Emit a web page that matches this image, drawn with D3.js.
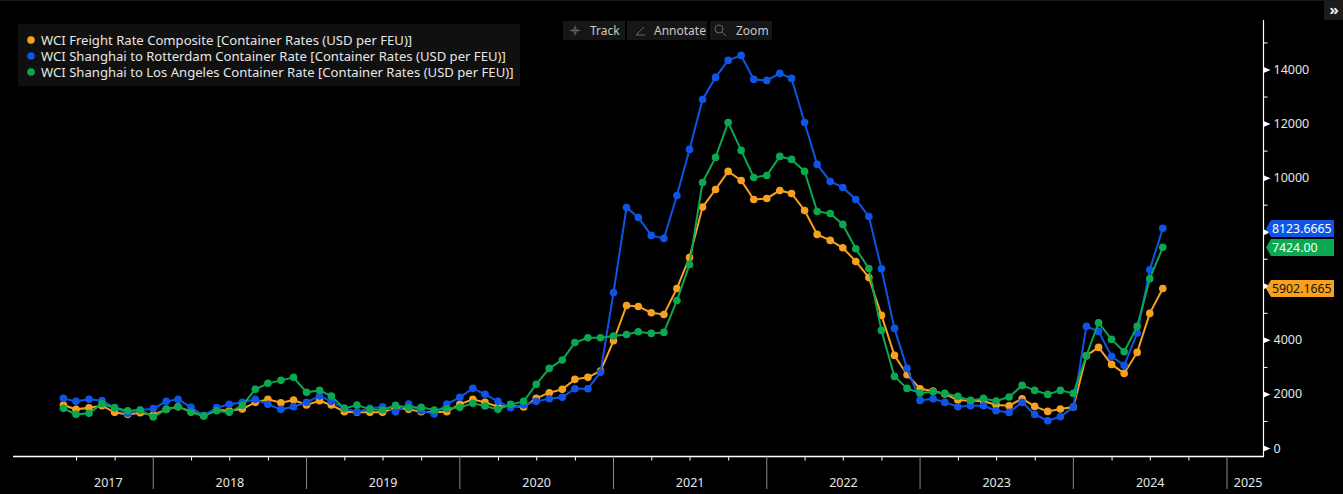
<!DOCTYPE html>
<html>
<head>
<meta charset="utf-8">
<title>WCI Container Rates</title>
<script src="https://cdn.jsdelivr.net/npm/d3@7"></script>
<style>
html, body { margin: 0; padding: 0; background: #000; overflow: hidden; }
text { font-family: "Noto Sans", sans-serif; font-size: 12.5px; fill: #e6e6e6; }
</style>
</head>
<body>
<script>
// monthly readings, Jun 2017 to Aug 2024
var composite = [1590,1429,1491,1565,1318,1244,1306,1220,1429,1528,1343,1195,1405,1380,1441,1688,1799,1676,1774,1590,1750,1590,1343,1318,
  1318,1318,1491,1429,1343,1318,1343,1614,1799,1688,1528,1565,1515,1836,2046,2169,2539,2613,2850,3966,
  5273,5236,5002,4940,5902,7049,8911,9564,10230,9897,9194,9231,9527,9416,8787,7900,7678,7406,6901,6309,4905,3425,2710,
  2192,2106,1995,1773,1748,1736,1588,1563,1822,1539,1354,1440,1514,3413,3721,3092,2759,3536,4979,5902.1665];
var rotterdam = [1836,1725,1800,1751,1492,1282,1405,1455,1725,1800,1504,1196,1492,1615,1689,1800,1615,1430,1529,1689,1923,1725,1467,1331,
  1466,1528,1343,1626,1380,1257,1626,1873,2206,1984,1725,1491,1590,1725,1824,1873,2194,2194,2798,5754,
  8898,8528,7863,7752,9342,11044,12893,13707,14336,14521,13633,13596,13855,13670,12042,10489,9860,9638,9194,8565,6631,4424,2944,
  1761,1822,1687,1526,1563,1563,1378,1317,1687,1243,1008,1156,1514,4498,4313,3388,3055,4251,6594,8123.6665];
var losAngeles = [1466,1244,1281,1639,1491,1380,1405,1146,1429,1528,1318,1183,1380,1318,1577,2169,2391,2502,2613,2058,2132,1922,1466,1590,
  1429,1405,1577,1491,1503,1405,1454,1503,1651,1552,1429,1614,1725,2354,2946,3254,3900,4080,4078,4139,
  4200,4299,4238,4275,5458,6790,9823,10748,12042,11007,10008,10082,10785,10674,10230,8750,8676,8270,7369,6642,4350,2648,2204,
  2032,2081,2019,1908,1761,1834,1736,1884,2315,2131,1982,2131,2019,3413,4633,4017,3561,4498,6261,7424];

var seriesNames = ['WCI Freight Rate Composite [Container Rates (USD per FEU)]',
  'WCI Shanghai to Rotterdam Container Rate [Container Rates (USD per FEU)]',
  'WCI Shanghai to Los Angeles Container Rate [Container Rates (USD per FEU)]'];
var seriesColors = ['#f8a11e', '#0e55e6', '#0aa850'];
var seriesValues = [composite, rotterdam, losAngeles];
var lastLabels = ['5902.1665', '8123.6665', '7424.00'];
var lastLabelColors = ['#1c1204', '#ffffff', '#ffffff'];
var tagCenters = [288.5, 228.5, 247.5];

var majorTicks = [0,2000,4000,6000,8000,10000,12000,14000];
var minorTicks = [1000,3000,5000,7000,9000,11000,13000,15000];
var hiddenTickLabels = [6000, 8000]; // the value tags sit on these
var years = [2017,2018,2019,2020,2021,2022,2023,2024,2025];
var toolbarLabels = ['Track', 'Annotate', 'Zoom'];

var months = d3.timeMonth.range(new Date(2017, 5, 1), new Date(2024, 8, 1));

var svg = d3.select('body').append('svg')
            .attr('width', 1343)
            .attr('height', 494)
            .style('display', 'block')
            .style('background', '#000');

var x = d3.scaleTime()
          .domain([new Date(2017, 1, 1), new Date(2025, 2, 30)])
          .range([13, 1264]);
var y = d3.scaleLinear().domain([0, 14000]).range([448, 69.5]);

// top strip and the >> button
svg.append('rect').attr('width', 1343).attr('height', 1).style('fill', '#1a1a1a');
svg.append('rect').attr('x', 1324).attr('y', 1).attr('width', 19).attr('height', 19).style('fill', '#1c1c1c');
svg.append('text').attr('x', 1334).attr('y', 15).attr('text-anchor', 'middle')
   .style('font-weight', 700).style('font-size', '15px').style('fill', '#f0f0f0').text('\u00bb');

// y axis, right side
var yMinor = d3.axisRight(y).tickValues(minorTicks).tickSize(4).tickFormat('');
var yMajor = d3.axisRight(y).tickValues(majorTicks).tickSize(0).tickPadding(10)
               .tickFormat(function(d) { return hiddenTickLabels.indexOf(d) >= 0 ? '' : d; });
svg.append('g').attr('transform', 'translate(1263.5,0)').call(yMinor)
   .call(function(g) { g.select('.domain').remove(); })
   .selectAll('line').style('stroke', '#fff');
var yg = svg.append('g').attr('transform', 'translate(1263.5,0)').call(yMajor);
yg.select('.domain').remove();
yg.selectAll('.tick').append('path').attr('d', 'M0,-3L7,0L0,3Z').style('fill', '#fff');
yg.selectAll('text').style('font-family', '"Noto Sans", sans-serif').style('font-size', '12.5px').style('fill', '#e6e6e6');
svg.append('line').attr('x1', 1263.5).attr('x2', 1263.5).attr('y1', 20).attr('y2', 456.5)
   .style('stroke', '#fff').style('stroke-width', 1.2);

// x axis, quarter ticks and year separators
var quarters = d3.timeMonth.range(new Date(2017, 6, 1), new Date(2025, 0, 1), 3).filter(function(d) { return d.getMonth() != 0; });
var xg = svg.append('g').attr('transform', 'translate(0,456.5)')
            .call(d3.axisBottom(x).tickValues(quarters).tickSize(4).tickFormat(''));
xg.select('.domain').remove();
xg.selectAll('line').style('stroke', '#fff');
svg.append('line').attr('x1', 13).attr('x2', 1264).attr('y1', 456.5).attr('y2', 456.5)
   .style('stroke', '#fff').style('stroke-width', 1.4);

var yearStarts = years.slice(1).map(function(d) { return new Date(d, 0, 1); });
svg.selectAll('.sep').data(yearStarts).enter().append('line')
   .attr('class', 'sep')
   .attr('x1', function(d) { return x(d); })
   .attr('x2', function(d) { return x(d); })
   .attr('y1', 456.5).attr('y2', 489)
   .style('stroke', '#8a8a8a');

// year label sits in the middle of the part of the year that has data
svg.selectAll('.year').data(years).enter().append('text')
   .attr('class', 'year')
   .attr('x', function(d) {
     if (d == 2025) return x(new Date(2025, 1, 20));
     var a = d == 2017 ? months[0] : new Date(d, 0, 1);
     return (x(a) + x(new Date(d + 1, 0, 1))) / 2;
   })
   .attr('y', 487)
   .attr('text-anchor', 'middle')
   .text(function(d) { return d; });

// lines + markers, composite first so green ends up on top
var line = d3.line()
             .x(function(d, i) { return x(months[i]); })
             .y(function(d) { return y(d); });

seriesValues.forEach(function(vals, s) {
  svg.append('path').datum(vals)
     .attr('d', line)
     .style('fill', 'none')
     .style('stroke', seriesColors[s])
     .style('stroke-width', 2);
  svg.append('g').selectAll('circle').data(vals).enter().append('circle')
     .attr('cx', function(d, i) { return x(months[i]); })
     .attr('cy', function(d) { return y(d); })
     .attr('r', 3.8)
     .style('fill', seriesColors[s]);
});

// last value tags
seriesValues.forEach(function(vals, s) {
  var t = svg.append('g').attr('transform', 'translate(1266,' + tagCenters[s] + ')');
  t.append('path').attr('d', 'M0,0L5,-8.5L68,-8.5L68,8.5L5,8.5Z').style('fill', seriesColors[s]);
  t.append('text').attr('x', 6).attr('y', 4.5).style('font-size', '12.3px').style('fill', lastLabelColors[s]).text(lastLabels[s]);
});

// legend
svg.append('rect').attr('x', 18).attr('y', 24).attr('width', 502).attr('height', 62).style('fill', '#101010');
var legend = svg.selectAll('.legend').data(seriesNames).enter().append('g')
                .attr('class', 'legend')
                .attr('transform', function(d, i) { return 'translate(31,' + (40 + i * 16) + ')'; });
legend.append('circle').attr('r', 3.8).style('fill', function(d, i) { return seriesColors[i]; });
legend.append('text').attr('x', 10).attr('y', 4.5).style('font-size', '13.1px').text(function(d) { return d; });

// toolbar
var toolX = [563, 627, 710];
var toolW = [62, 80, 62];
var toolTextX = [590, 654, 736];
var tool = svg.selectAll('.tool').data(toolbarLabels).enter().append('g').attr('class', 'tool');
tool.append('rect')
    .attr('x', function(d, i) { return toolX[i]; })
    .attr('y', 21).attr('width', function(d, i) { return toolW[i]; }).attr('height', 19)
    .style('fill', '#161616');
tool.append('text')
    .attr('x', function(d, i) { return toolTextX[i]; })
    .attr('y', 35)
    .style('font-size', '12px')
    .style('fill', '#c8c8c8')
    .text(function(d) { return d; });

svg.append('path').attr('d', 'M570,30.5h10M575,25.5v10M575,27.5l3,3l-3,3l-3,-3Z')
   .style('fill', 'none').style('stroke', '#666');
svg.append('path').attr('d', 'M636,35l8,-8M636,35h9')
   .style('fill', 'none').style('stroke', '#666');
svg.append('circle').attr('cx', 719).attr('cy', 29).attr('r', 4)
   .style('fill', 'none').style('stroke', '#666');
svg.append('path').attr('d', 'M722,32l4,4').style('fill', 'none').style('stroke', '#666');
</script>
</body>
</html>
